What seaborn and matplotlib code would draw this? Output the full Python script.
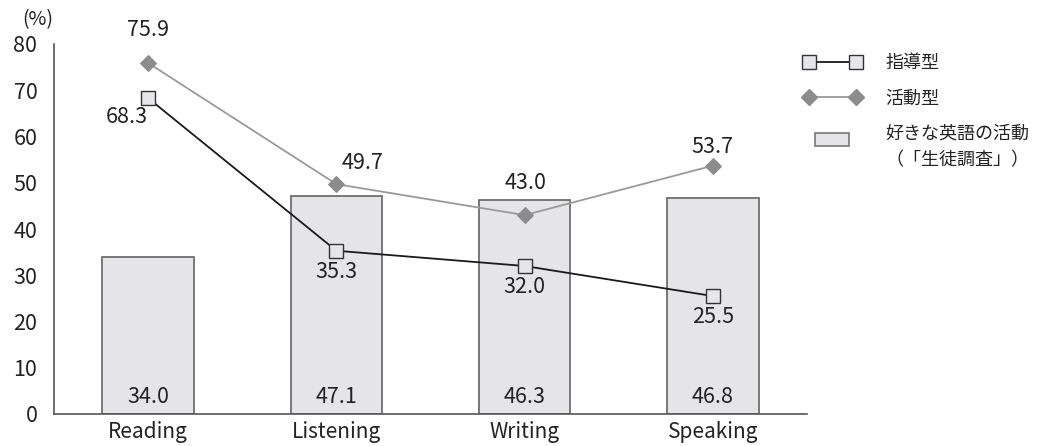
import numpy as np
import pandas as pd
import matplotlib
matplotlib.use("Agg")
import matplotlib.pyplot as plt
import matplotlib.patches as mpatches
from matplotlib.lines import Line2D
from matplotlib.legend_handler import HandlerPatch
import seaborn as sns

# Data
categories = ["Reading", "Listening", "Writing", "Speaking"]
liked_activity = [34.0, 47.1, 46.3, 46.8]      # 好きな英語の活動（「生徒調査」）
guidance_type = [68.3, 35.3, 32.0, 25.5]       # 指導型
activity_type = [75.9, 49.7, 43.0, 53.7]       # 活動型
y_ticks = [0, 10, 20, 30, 40, 50, 60, 70, 80]

sns.set_theme(style="white")
plt.rcParams["font.family"] = ["Noto Sans CJK JP", "DejaVu Sans"]

TEXT = "#222222"
AXIS = "#555555"
BAR_FILL = "#e5e5e7"
BAR_EDGE = "#6e6e6e"
ACT_COLOR = "#8c8c8c"
ACT_LINE = "#9a9a9a"
FS = 15.5

fig = plt.figure(figsize=(10.39, 4.46), dpi=100)
ax = fig.add_axes([54 / 1039, 1 - 414 / 446, 753 / 1039, 370 / 446])

x = np.arange(len(categories))
df = pd.DataFrame({"x": x, "cat": categories, "liked": liked_activity,
                   "guide": guidance_type, "act": activity_type})

# Bars
sns.barplot(data=df, x="cat", y="liked", ax=ax, color=BAR_FILL,
            edgecolor=BAR_EDGE, linewidth=1.3, width=0.485, saturation=1)

# Lines
sns.lineplot(data=df, x="x", y="act", ax=ax, color=ACT_LINE, linewidth=1.3,
             marker="D", markersize=8, markerfacecolor=ACT_COLOR,
             markeredgecolor=ACT_COLOR, zorder=3)
sns.lineplot(data=df, x="x", y="guide", ax=ax, color="#1a1a1a", linewidth=1.3,
             marker="s", markersize=10, markerfacecolor="#e6e6e8",
             markeredgecolor="#333333", markeredgewidth=1.0, zorder=4)

# Value labels
for xi, v in zip(x, liked_activity):
    ax.annotate(f"{v:.1f}", (xi, 0), xytext=(0, 17), textcoords="offset pixels",
                ha="center", va="center", fontsize=FS, color=TEXT)

act_offsets = [(0, 33), (26, 21), (1, 32), (0, 19)]
for xi, v, off in zip(x, activity_type, act_offsets):
    ax.annotate(f"{v:.1f}", (xi, v), xytext=off, textcoords="offset pixels",
                ha="center", va="center", fontsize=FS, color=TEXT)

guide_offsets = [(-21, -19), (0, -21), (0, -21), (0, -21)]
for xi, v, off in zip(x, guidance_type, guide_offsets):
    ax.annotate(f"{v:.1f}", (xi, v), xytext=off, textcoords="offset pixels",
                ha="center", va="center", fontsize=FS, color=TEXT)

# Axes styling
ax.set_xlim(-0.5, 3.5)
ax.set_ylim(0, 80)
ax.set_xlabel("")
ax.set_ylabel("")
for s in ["top", "right"]:
    ax.spines[s].set_visible(False)
for s in ["left", "bottom"]:
    ax.spines[s].set_color(AXIS)
    ax.spines[s].set_linewidth(1.2)

ax.set_yticks(y_ticks)
ax.set_yticklabels([str(t) for t in y_ticks], fontsize=FS, color=TEXT)
ax.tick_params(axis="y", direction="in", length=9, width=1.1, color=AXIS, pad=12)

ax.set_xticks([0.5, 1.5, 2.5, 3.5])
ax.set_xticklabels([])
ax.set_xticks(x, minor=True)
ax.set_xticklabels(categories, minor=True, fontsize=FS - 0.5, color=TEXT)
ax.tick_params(axis="x", which="major", direction="in", length=6, width=1.1, color=AXIS)
ax.tick_params(axis="x", which="minor", length=0, pad=5)

ax.text(-0.021, 1.037, "(%)", transform=ax.transAxes, ha="center",
        va="bottom", fontsize=FS - 1.5, color=TEXT)

# Legend
class SmallRect(HandlerPatch):
    def create_artists(self, legend, orig_handle, xdescent, ydescent,
                       width, height, fontsize, trans):
        w = width * 0.6
        h = height * 1.0
        p = mpatches.Rectangle((xdescent + (width - w) / 2, ydescent + (height - h) / 2 + 0.62 * height),
                               w, h, facecolor=BAR_FILL, edgecolor=BAR_EDGE, lw=1.1,
                               transform=trans)
        return [p]

h_guide = Line2D([], [], color="#1a1a1a", lw=1.3, marker="s", markersize=10,
                 markerfacecolor="#e6e6e8", markeredgecolor="#333333")
h_act = Line2D([], [], color=ACT_LINE, lw=1.3, marker="D", markersize=8,
               markerfacecolor=ACT_COLOR, markeredgecolor=ACT_COLOR)
h_bar = mpatches.Rectangle((0, 0), 1, 1, facecolor=BAR_FILL, edgecolor=BAR_EDGE)

leg = fig.legend([h_guide, h_act, h_bar],
                 ["指導型", "活動型", "好きな英語の活動\n（「生徒調査」）"],
                 handler_map={mpatches.Rectangle: SmallRect()},
                 loc="upper left", bbox_to_anchor=(796 / 1039, 1 - 47 / 446),
                 frameon=False, fontsize=13, handlelength=3.2,
                 handletextpad=1.35, labelspacing=0.95, numpoints=2,
                 borderaxespad=0, borderpad=0.4)
for t in leg.get_texts():
    t.set_color(TEXT)
    t.set_linespacing(1.6)

fig.savefig("out.png", dpi=100)
